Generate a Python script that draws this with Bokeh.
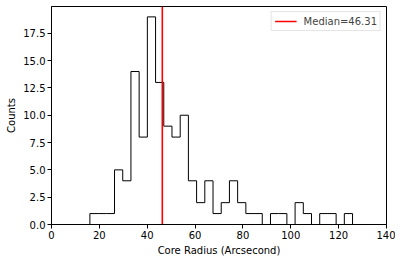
from bokeh.plotting import figure
from bokeh.models import Range1d, FixedTicker, NumeralTickFormatter, Legend, LegendItem
from bokeh.embed import file_html
from bokeh.resources import INLINE

# Histogram data
bin_start = 16.05
bin_width = 3.43
counts = [1, 1, 1, 5, 4, 14, 8, 19, 13, 9, 8, 10, 4, 2, 4, 1,
          2, 4, 2, 1, 1, 0, 1, 1, 0, 2, 1, 0, 1, 1, 0, 1]
median = 46.31
x_ticks = [0, 20, 40, 60, 80, 100, 120, 140]
y_ticks = [0.0, 2.5, 5.0, 7.5, 10.0, 12.5, 15.0, 17.5]

edges = [bin_start + i * bin_width for i in range(len(counts) + 1)]
xs = [edges[0]]
ys = [0]
for i, c in enumerate(counts):
    xs += [edges[i], edges[i + 1]]
    ys += [c, c]
xs.append(edges[-1])
ys.append(0)

ymax = max(counts) * 1.05

p = figure(width=395, height=258, output_backend="svg", toolbar_location=None,
           x_range=Range1d(0, 140), y_range=Range1d(0, ymax),
           min_border_left=51, min_border_right=9, min_border_top=6, min_border_bottom=34)
p.background_fill_color = "white"
p.border_fill_color = "white"
p.outline_line_color = "black"
p.outline_line_width = 1
p.xgrid.visible = False
p.ygrid.visible = False

p.line(xs, ys, line_color="black", line_width=1)
med = p.line([median, median], [0, ymax], line_color="red", line_width=1.6)

font = "DejaVu Sans"
for ax in (p.xaxis[0], p.yaxis[0]):
    ax.major_label_text_font = font
    ax.major_label_text_font_size = "10px"
    ax.major_label_text_color = "black"
    ax.axis_label_text_font = font
    ax.axis_label_text_font_size = "10px"
    ax.axis_label_text_font_style = "normal"
    ax.axis_label_text_color = "black"
    ax.axis_line_color = "black"
    ax.major_tick_line_color = "black"
    ax.major_tick_out = 4
    ax.major_tick_in = 0
    ax.minor_tick_line_color = None
    ax.axis_label_standoff = 3
    ax.major_label_standoff = 2

p.xaxis.ticker = FixedTicker(ticks=x_ticks)
p.yaxis.ticker = FixedTicker(ticks=y_ticks)
p.yaxis.formatter = NumeralTickFormatter(format="0.0")
p.xaxis.axis_label = "Core Radius (Arcsecond)"
p.yaxis.axis_label = "Counts"

legend = Legend(items=[LegendItem(label="Median=%.2f" % median, renderers=[med])],
                location="top_right")
legend.label_text_font = font
legend.label_text_font_size = "10px"
legend.border_line_color = "#cccccc"
legend.border_line_width = 1
legend.glyph_width = 22
legend.glyph_height = 12
legend.label_height = 12
legend.label_standoff = 7
legend.padding = 3
legend.spacing = 0
legend.margin = 5
legend.background_fill_alpha = 0.9
p.add_layout(legend)

open("out.html", "w").write(file_html(p, INLINE))
